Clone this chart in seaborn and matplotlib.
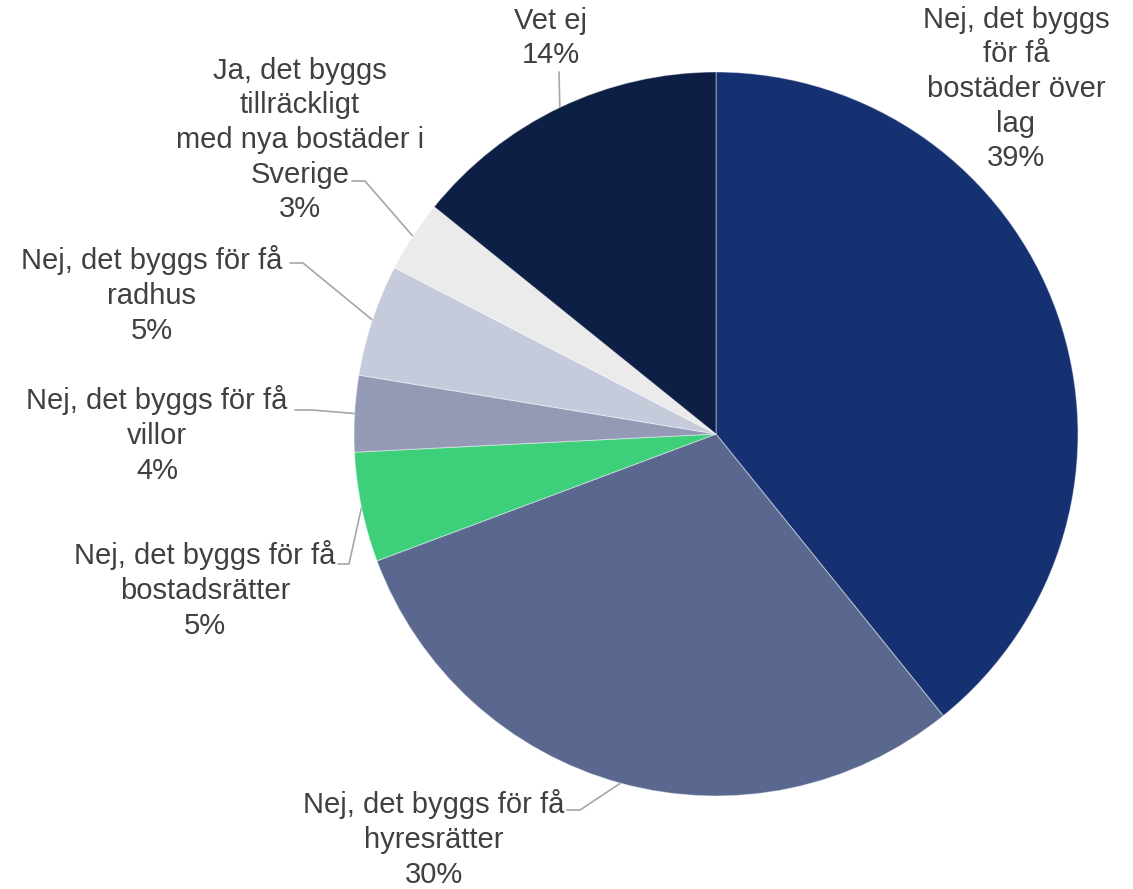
import numpy as np
import matplotlib
matplotlib.use("Agg")
import matplotlib.pyplot as plt
import seaborn as sns

categories = [
    "Nej, det byggs\nför få\nbostäder över\nlag",
    "Nej, det byggs för få\nhyresrätter",
    "Nej, det byggs för få\nbostadsrätter",
    "Nej, det byggs för få\nvillor",
    "Nej, det byggs för få\nradhus",
    "Ja, det byggs\ntillräckligt\nmed nya bostäder i\nSverige",
    "Vet ej",
]
values = [39.2, 30.1, 4.9, 3.4, 5.0, 3.2, 14.2]
pct_labels = ["39%", "30%", "5%", "4%", "5%", "3%", "14%"]
colors = ["#163172", "#5a6890", "#3ecf7a", "#9499b6", "#c6cbdb", "#ebebeb", "#0e1f45"]

sns.set_theme(style="white")
plt.rcParams['font.family'] = ['Liberation Sans', 'DejaVu Sans']

W, H = 1133, 889
fig = plt.figure(figsize=(W / 100, H / 100), dpi=100)
ax = fig.add_axes([0, 0, 1, 1])
CX, CY, R = 716, 434, 362


def d(px, py):
    return ((px - CX) / R, (CY - py) / R)


wedges, _ = ax.pie(values, colors=colors, startangle=90, counterclock=False,
                   radius=1, center=(0, 0),
                   wedgeprops=dict(edgecolor=(1, 1, 1, 0.4), linewidth=0.8))
ax.set_xlim(-CX / R, (W - CX) / R)
ax.set_ylim((CY - H) / R, CY / R)
ax.set_aspect('equal')
ax.axis('off')

# label centers (pixel) and leader start points (pixel)
label_pos = [(1016, 89), (434, 839), (205, 590), (157, 435), (152, 295), (300, 140), (551, 38)]
leaders = [None,
           [(567, 810), (580, 810)],
           [(338, 564), (349, 564)],
           [(295, 410), (312, 410)],
           [(290, 263), (303, 263)],
           [(352, 181), (365, 181)],
           [(559, 72)]]

for i, (cat, pct) in enumerate(zip(categories, pct_labels)):
    x, y = d(*label_pos[i])
    ax.text(x, y, f"{cat}\n{pct}", ha="center", va="center", fontsize=21,
            color="#404040", linespacing=1.3)
    if leaders[i] is not None:
        w = wedges[i]
        mid = np.deg2rad((w.theta1 + w.theta2) / 2)
        ex, ey = np.cos(mid), np.sin(mid)
        pts = [d(*p) for p in leaders[i]] + [(ex, ey)]
        xs, ys = zip(*pts)
        ax.plot(xs, ys, color="#a6a6a6", lw=1.2, zorder=0.5)

fig.savefig("out.png", dpi=100, facecolor="white")
